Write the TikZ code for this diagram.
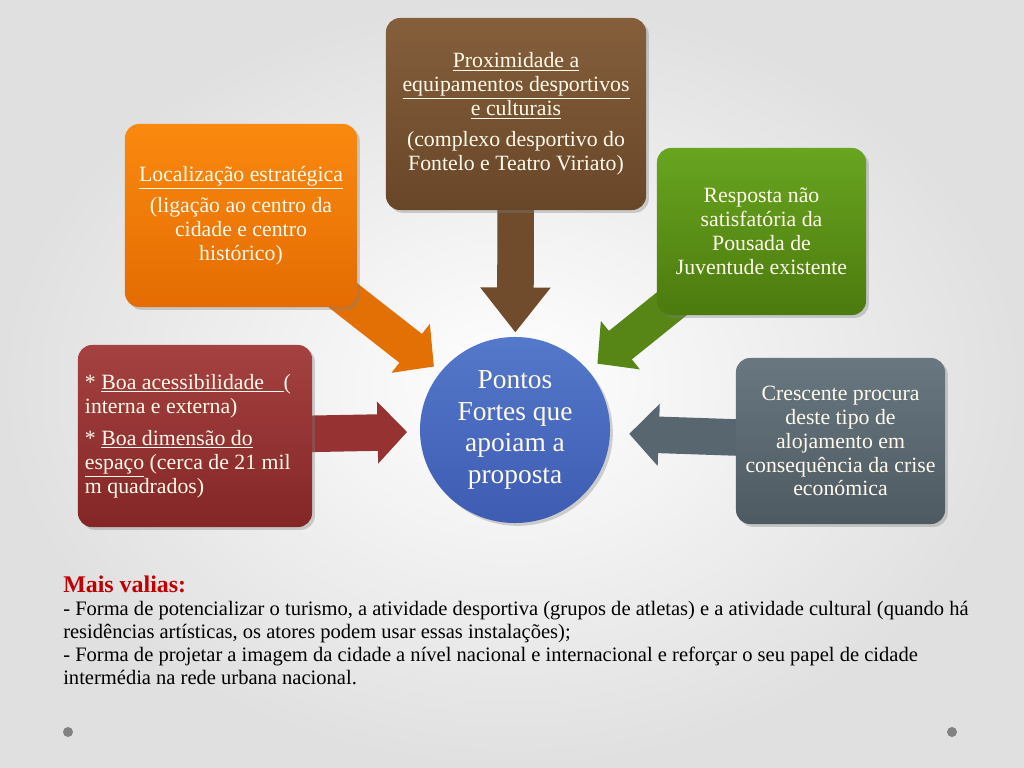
\documentclass[tikz,border=0pt]{standalone}
\usepackage{fontspec}
\setmainfont{Liberation Serif}
\usetikzlibrary{shapes.geometric, shadows, arrows.meta}

\definecolor{orTop}{RGB}{250,137,15}
\definecolor{orBot}{RGB}{228,108,2}
\definecolor{orArr}{RGB}{226,112,5}
\definecolor{brTop}{RGB}{133,95,60}
\definecolor{brBot}{RGB}{104,70,40}
\definecolor{brArr}{RGB}{112,76,44}
\definecolor{grTop}{RGB}{104,165,32}
\definecolor{grBot}{RGB}{76,122,14}
\definecolor{grArr}{RGB}{88,134,22}
\definecolor{slTop}{RGB}{104,119,128}
\definecolor{slBot}{RGB}{78,90,98}
\definecolor{slArr}{RGB}{88,102,112}
\definecolor{rdTop}{RGB}{165,65,65}
\definecolor{rdBot}{RGB}{132,38,38}
\definecolor{rdArr}{RGB}{150,50,50}
\definecolor{blTop}{RGB}{84,120,202}
\definecolor{blBot}{RGB}{62,92,178}
\definecolor{boxText}{RGB}{255,250,235}
\definecolor{valRed}{RGB}{192,0,0}
\definecolor{bgEdge}{RGB}{224,224,224}
\definecolor{dotGray}{RGB}{130,130,130}

\pgfdeclarelayer{back}
\pgfsetlayers{back,main}

\tikzset{
  box/.style={rounded corners=10pt, align=center, text=boxText, inner sep=5pt,
    font=\fontsize{15.5}{17}\selectfont,
    drop shadow={opacity=0.35, shadow xshift=2pt, shadow yshift=-2pt}},
  fat/.style={line width=26pt, shorten >=#1, -{Triangle[length=21pt,width=43pt]}},
}

\begin{document}
\begin{tikzpicture}[x=0.025cm, y=-0.025cm]
    \useasboundingbox (0,0) rectangle (1024,768);

    % Boxes
    \node[box, top color=orTop, bottom color=orBot, minimum width=5.8cm, minimum height=4.575cm]
        (loc) at (241,215.5) {\underline{Localização estratégica}\\[5pt](ligação ao centro da\\cidade e centro\\histórico)};
    \node[box, top color=brTop, bottom color=brBot, minimum width=6.5cm, minimum height=4.8cm]
        (prox) at (516,114) {\underline{Proximidade a}\\\underline{equipamentos desportivos}\\\underline{e culturais}\\[5pt](complexo desportivo do\\Fontelo e Teatro Viriato)};
    \node[box, top color=grTop, bottom color=grBot, minimum width=5.225cm, minimum height=4.175cm]
        (resp) at (761.5,231.5) {Resposta não\\satisfatória da\\Pousada de\\Juventude existente};
    \node[box, top color=slTop, bottom color=slBot, minimum width=5.225cm, minimum height=4.15cm]
        (cresc) at (840.5,441) {Crescente procura\\deste tipo de\\alojamento em\\consequência da crise\\económica};
    \node[box, top color=rdTop, bottom color=rdBot, minimum width=5.8cm, minimum height=4.55cm,
        text width=5.5cm, align=flush left]
        (acess) at (195,436) {\mbox{* \underline{Boa acessibilidade\hspace{0.9em}}(}\\interna e externa)\\[6pt]* \underline{Boa dimensão do}\\\underline{espaço} (cerca de 21 mil\\m quadrados)};

    % Centre
    \node[ellipse, top color=blTop, bottom color=blBot, text=boxText, align=center,
        minimum width=4.75cm, minimum height=4.65cm, inner sep=0pt,
        font=\fontsize{19.5}{22.5}\selectfont,
        drop shadow={opacity=0.35, shadow xshift=2pt, shadow yshift=-2pt}]
        (centro) at (515,430) {Pontos\\Fortes que\\apoiam a\\proposta};

    % Block arrows and background
    \begin{pgfonlayer}{back}
        \shade[inner color=white, outer color=bgEdge] (0,0) rectangle (1024,768);
        \draw[fat=6pt, orArr] (loc.center) -- (centro);
        \draw[fat=3pt, brArr, -{Triangle[length=32pt,width=48pt]}] (prox.center) -- (centro);
        \draw[fat=8pt, grArr] (resp.center) -- (centro);
        \draw[fat=9pt, rdArr] (acess.center) -- (centro);
        \draw[fat=13.5pt, slArr] (cresc.center) -- (centro);
    \end{pgfonlayer}

    % Mais valias
    \node[anchor=base west, inner sep=0pt, text=valRed, font=\fontsize{17}{20}\selectfont\bfseries]
        (valias) at (63,592) {Mais valias:};
    \node[anchor=north west, inner sep=0pt, align=left, font=\fontsize{14.6}{16.4}\selectfont]
        (lista) at (63,601) {- Forma de potencializar o turismo, a atividade desportiva (grupos de atletas) e a atividade cultural (quando há\\residências artísticas, os atores podem usar essas instalações);\\- Forma de projetar a imagem da cidade a nível nacional e internacional e reforçar o seu papel de cidade\\intermédia na rede urbana nacional.};

    % Slide dots
    \fill[dotGray] (68,732) circle (5);
    \fill[dotGray] (952,732) circle (5);
\end{tikzpicture}
\end{document}
